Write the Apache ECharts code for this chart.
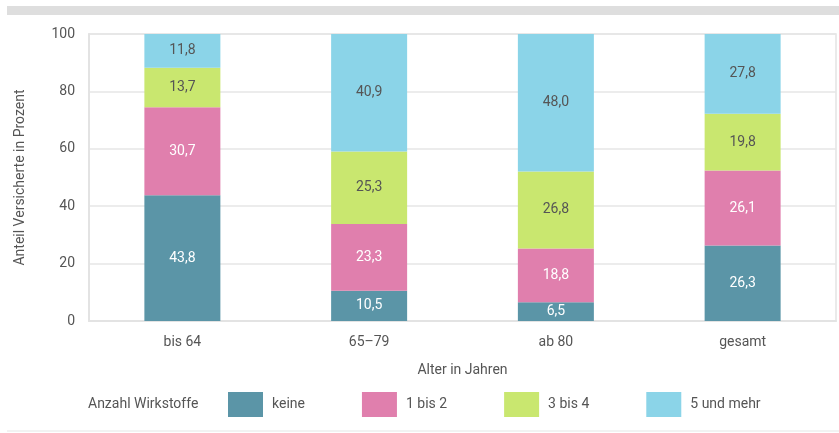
<!DOCTYPE html>
<html>
<head>
<meta charset="utf-8">
<script src="https://cdn.jsdelivr.net/npm/echarts@6/dist/echarts.min.js"></script>
<style>
  html, body { margin: 0; padding: 0; background: #fff; }
  #chart { width: 839px; height: 433px; }
</style>
</head>
<body>
<div id="chart"></div>
<script>
const categories = ['bis 64', '65\u201379', 'ab 80', 'gesamt'];
const seriesNames = ['keine', '1 bis 2', '3 bis 4', '5 und mehr'];
const keine = [43.8, 10.5, 6.5, 26.3];
const einsBisZwei = [30.7, 23.3, 18.8, 26.1];
const dreiBisVier = [13.7, 25.3, 26.8, 19.8];
const fuenfUndMehr = [11.8, 40.9, 48.0, 27.8];

const colors = ['#5b95a7', '#e07fad', '#c9e76f', '#8bd4e8'];
const labelColors = ['#ffffff', '#ffffff', '#555555', '#555555'];
const values = [keine, einsBisZwei, dreiBisVier, fuenfUndMehr];
const font = 'Roboto';

const chart = echarts.init(document.getElementById('chart'));

const series = seriesNames.map((name, i) => ({
  name: name,
  type: 'bar',
  stack: 'total',
  barWidth: 76,
  data: values[i],
  itemStyle: { color: colors[i] },
  label: {
    show: true,
    position: 'inside',
    color: labelColors[i],
    fontFamily: font,
    fontSize: 14,
    formatter: p => p.value.toFixed(1).replace('.', ',')
  }
}));

chart.setOption({
  animation: false,
  textStyle: { fontFamily: font },
  title: {
    text: 'Anzahl Wirkstoffe',
    left: 88,
    top: 397,
    padding: 0,
    textStyle: { fontSize: 14, fontWeight: 'normal', color: '#555', fontFamily: font }
  },
  graphic: [
    { type: 'rect', shape: { x: 7, y: 6, width: 832, height: 9 }, style: { fill: '#dedede' } },
    { type: 'rect', shape: { x: 7, y: 430, width: 832, height: 2 }, style: { fill: '#f2f2f2' } }
  ],
  legend: {
    left: 228,
    top: 392,
    padding: 0,
    itemWidth: 35,
    itemHeight: 25,
    itemGap: 57,
    icon: 'rect',
    textStyle: { fontSize: 14, color: '#555', fontFamily: font, padding: [0, 0, 0, 4] },
    data: seriesNames
  },
  grid: {
    left: 89,
    right: 3,
    top: 34,
    bottom: 112,
    show: true,
    borderColor: '#e3e3e3',
    borderWidth: 1.5
  },
  xAxis: {
    type: 'category',
    data: categories,
    name: 'Alter in Jahren',
    nameLocation: 'middle',
    nameGap: 42,
    nameTextStyle: { fontSize: 14, color: '#555', fontFamily: font },
    axisLine: { lineStyle: { color: '#e3e3e3', width: 2 } },
    axisTick: { show: false },
    axisLabel: { fontSize: 14, color: '#555', margin: 14, fontFamily: font }
  },
  yAxis: {
    type: 'value',
    min: 0,
    max: 100,
    interval: 20,
    name: 'Anteil Versicherte in Prozent',
    nameLocation: 'middle',
    nameGap: 62,
    nameTextStyle: { fontSize: 14, color: '#555', fontFamily: font },
    axisLine: { show: true, lineStyle: { color: '#e3e3e3', width: 2 } },
    axisTick: { show: false },
    axisLabel: { fontSize: 14, color: '#555', margin: 14, fontFamily: font },
    splitLine: { lineStyle: { color: '#e6e6e6', width: 1.5 } }
  },
  series: series
});
</script>
</body>
</html>
